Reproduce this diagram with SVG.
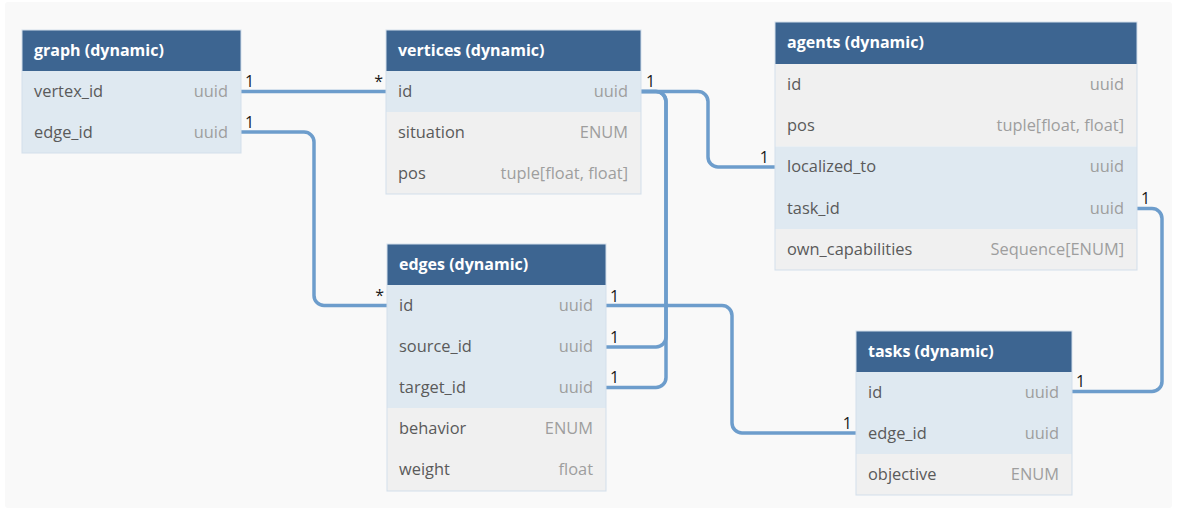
<svg xmlns="http://www.w3.org/2000/svg" width="1177" height="511" viewBox="0 0 1177 511">
<style>
.bg{fill:#f9f9f9}
.hdr{fill:#3d6591}
.key{fill:#dfe9f1}
.row{fill:#f0f0f0}
.frame{fill:none;stroke:#d3dfeb;stroke-width:1}
.title{font-family:"Open Sans",sans-serif;font-size:16px;font-weight:bold;fill:#ffffff}
.f{font-family:"Open Sans",sans-serif;font-size:16.4px;fill:#5a5a5a}
.t{font-family:"Open Sans",sans-serif;font-size:16.4px;fill:#9e9e9e;text-anchor:end}
.lbl{font-family:"Open Sans",sans-serif;font-size:16px;fill:#1a1a1a}
.lble{font-family:"Open Sans",sans-serif;font-size:16px;fill:#1a1a1a;text-anchor:end}
.conn{fill:none;stroke:#6d9dcc;stroke-width:3.5}
</style>
<rect x="0" y="0" width="1177" height="511" fill="#ffffff"/>
<rect class="bg" x="5" y="2" width="1167" height="506" rx="3"/>

<g id="connectors">
<path class="conn" d="M241,91.5 H386"/>
<path class="conn" d="M241,132 H304 A10,10 0 0 1 314,142 V295.5 A10,10 0 0 0 324,305.5 H387"/>
<path class="conn" d="M641,91.5 H656 A10,10 0 0 1 666,101.5 V337 A10,10 0 0 1 656,347 H606"/>
<path class="conn" d="M641,91.5 H656 A10,10 0 0 1 666,101.5 V377.5 A10,10 0 0 1 656,387.5 H606"/>
<path class="conn" d="M641,91.5 H698 A10,10 0 0 1 708,101.5 V157 A10,10 0 0 0 718,167 H775"/>
<path class="conn" d="M606,305.5 H722 A10,10 0 0 1 732,315.5 V423 A10,10 0 0 0 742,433 H856"/>
<path class="conn" d="M1137,208.5 H1152 A10,10 0 0 1 1162,218.5 V381.5 A10,10 0 0 1 1152,391.5 H1072"/>
<text class="lbl" x="245" y="87">1</text>
<text class="lble" x="383" y="87">*</text>
<text class="lbl" x="245" y="128">1</text>
<text class="lble" x="384" y="301">*</text>
<text class="lbl" x="646" y="87">1</text>
<text class="lbl" x="610" y="343">1</text>
<text class="lbl" x="610" y="383">1</text>
<text class="lble" x="769" y="163">1</text>
<text class="lbl" x="610" y="302">1</text>
<text class="lble" x="852" y="429">1</text>
<text class="lbl" x="1141" y="204">1</text>
<text class="lbl" x="1076" y="387">1</text>
</g>

<g id="graph">
<rect class="hdr" x="22" y="30" width="219" height="41"/>
<rect class="key" x="22" y="71" width="219" height="82"/>
<rect class="frame" x="22" y="30" width="219" height="123"/>
<text class="title" x="34" y="55.5">graph (dynamic)</text>
<text class="f" x="34" y="96.5">vertex_id</text><text class="t" x="228" y="96.5">uuid</text>
<text class="f" x="34" y="137.5">edge_id</text><text class="t" x="228" y="137.5">uuid</text>
</g>

<g id="vertices">
<rect class="hdr" x="386" y="30" width="255" height="41"/>
<rect class="key" x="386" y="71" width="255" height="41"/>
<rect class="row" x="386" y="112" width="255" height="82"/>
<rect class="frame" x="386" y="30" width="255" height="164"/>
<text class="title" x="398" y="55.5">vertices (dynamic)</text>
<text class="f" x="398" y="96.5">id</text><text class="t" x="628" y="96.5">uuid</text>
<text class="f" x="398" y="137.5">situation</text><text class="t" x="628" y="137.5">ENUM</text>
<text class="f" x="398" y="178.5">pos</text><text class="t" x="628" y="178.5">tuple[float, float]</text>
</g>

<g id="agents">
<rect class="hdr" x="775" y="22" width="362" height="42"/>
<rect class="row" x="775" y="64" width="362" height="82.5"/>
<rect class="key" x="775" y="146.5" width="362" height="82.5"/>
<rect class="row" x="775" y="229" width="362" height="41"/>
<rect class="frame" x="775" y="22" width="362" height="248"/>
<text class="title" x="787" y="48">agents (dynamic)</text>
<text class="f" x="787" y="89.5">id</text><text class="t" x="1124" y="89.5">uuid</text>
<text class="f" x="787" y="130.5">pos</text><text class="t" x="1124" y="130.5">tuple[float, float]</text>
<text class="f" x="787" y="172">localized_to</text><text class="t" x="1124" y="172">uuid</text>
<text class="f" x="787" y="213.5">task_id</text><text class="t" x="1124" y="213.5">uuid</text>
<text class="f" x="787" y="254.5">own_capabilities</text><text class="t" x="1124" y="254.5">Sequence[ENUM]</text>
</g>

<g id="edges">
<rect class="hdr" x="387" y="244" width="219" height="41"/>
<rect class="key" x="387" y="285" width="219" height="123"/>
<rect class="row" x="387" y="408" width="219" height="83"/>
<rect class="frame" x="387" y="244" width="219" height="247"/>
<text class="title" x="399" y="269.5">edges (dynamic)</text>
<text class="f" x="399" y="310.5">id</text><text class="t" x="593" y="310.5">uuid</text>
<text class="f" x="399" y="352">source_id</text><text class="t" x="593" y="352">uuid</text>
<text class="f" x="399" y="393">target_id</text><text class="t" x="593" y="393">uuid</text>
<text class="f" x="399" y="434">behavior</text><text class="t" x="593" y="434">ENUM</text>
<text class="f" x="399" y="475">weight</text><text class="t" x="593" y="475">float</text>
</g>

<g id="tasks">
<rect class="hdr" x="856" y="331" width="216" height="41"/>
<rect class="key" x="856" y="372" width="216" height="82"/>
<rect class="row" x="856" y="454" width="216" height="41"/>
<rect class="frame" x="856" y="331" width="216" height="164"/>
<text class="title" x="868" y="356.5">tasks (dynamic)</text>
<text class="f" x="868" y="397.5">id</text><text class="t" x="1059" y="397.5">uuid</text>
<text class="f" x="868" y="438.5">edge_id</text><text class="t" x="1059" y="438.5">uuid</text>
<text class="f" x="868" y="479.5">objective</text><text class="t" x="1059" y="479.5">ENUM</text>
</g>
</svg>
